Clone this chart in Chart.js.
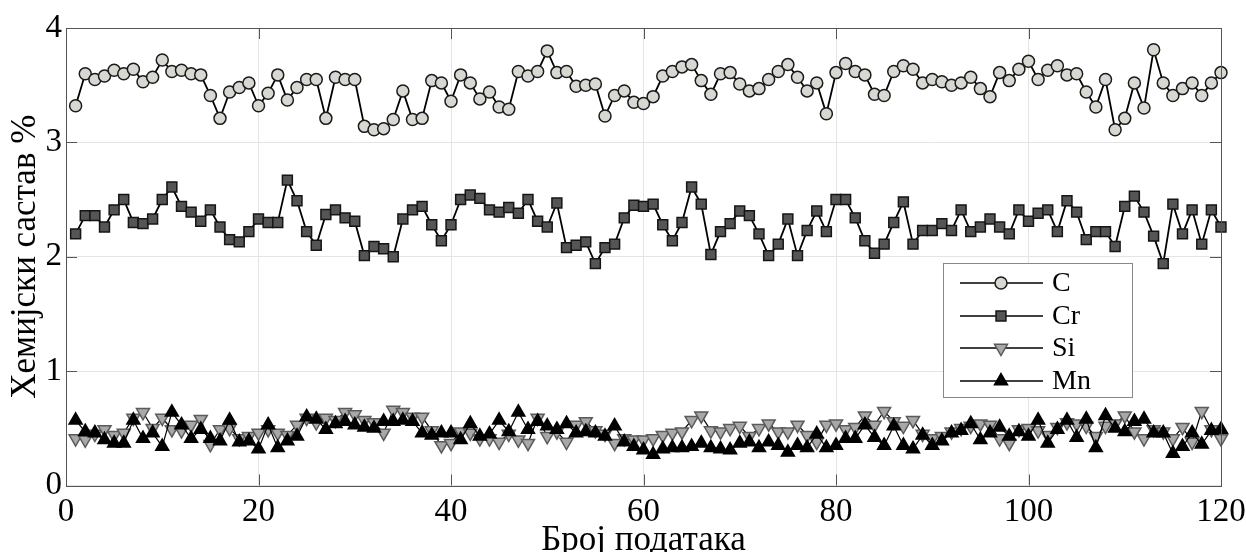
<!DOCTYPE html>
<html><head><meta charset="utf-8">
<script src="https://cdn.jsdelivr.net/npm/chart.js@4.4.1/dist/chart.umd.min.js"></script>
<style>html,body{margin:0;padding:0;background:#fff;}canvas{display:block}</style>
</head><body>
<canvas id="c" width="1246" height="552"></canvas>
<script>
// Sample numbers (x categories)
const sampleNo = Array.from({length:120}, (_, k) => k + 1);
const xTicks = [0, 20, 40, 60, 80, 100, 120];
const yTicks = [0, 1, 2, 3, 4];

const seriesC = [
3.32,3.60,3.55,3.58,3.63,3.60,3.64,3.53,3.57,3.72,
3.62,3.63,3.60,3.59,3.41,3.21,3.44,3.48,3.52,3.32,
3.43,3.59,3.37,3.48,3.55,3.55,3.21,3.57,3.55,3.55,
3.14,3.11,3.12,3.20,3.45,3.20,3.21,3.54,3.52,3.36,
3.59,3.52,3.38,3.44,3.31,3.29,3.62,3.58,3.62,3.80,
3.61,3.62,3.49,3.50,3.51,3.23,3.41,3.45,3.35,3.34,
3.40,3.58,3.62,3.66,3.68,3.54,3.42,3.60,3.61,3.51,
3.45,3.47,3.55,3.62,3.68,3.57,3.45,3.52,3.25,3.61,
3.69,3.62,3.59,3.42,3.41,3.62,3.67,3.64,3.52,3.55,
3.53,3.50,3.52,3.57,3.47,3.40,3.61,3.54,3.64,3.71,
3.55,3.63,3.67,3.59,3.60,3.44,3.31,3.55,3.11,3.21,
3.52,3.30,3.81,3.52,3.41,3.47,3.52,3.41,3.52,3.61];

const seriesCr = [
2.20,2.36,2.36,2.26,2.41,2.50,2.30,2.29,2.33,2.50,
2.61,2.44,2.39,2.31,2.41,2.26,2.15,2.13,2.22,2.33,
2.30,2.30,2.67,2.49,2.22,2.10,2.37,2.41,2.34,2.31,
2.01,2.09,2.07,2.00,2.33,2.41,2.44,2.28,2.14,2.28,
2.50,2.54,2.51,2.41,2.39,2.43,2.38,2.50,2.31,2.26,
2.47,2.08,2.10,2.13,1.94,2.08,2.11,2.34,2.45,2.44,
2.46,2.28,2.14,2.30,2.61,2.46,2.02,2.22,2.29,2.40,
2.36,2.20,2.01,2.11,2.33,2.01,2.23,2.40,2.22,2.50,
2.50,2.34,2.14,2.03,2.11,2.30,2.48,2.11,2.23,2.23,
2.29,2.23,2.41,2.22,2.26,2.33,2.26,2.20,2.41,2.31,
2.38,2.41,2.22,2.49,2.39,2.15,2.22,2.22,2.09,2.44,
2.53,2.39,2.18,1.94,2.46,2.20,2.41,2.11,2.41,2.26];

const seriesSi = [
0.41,0.40,0.45,0.49,0.44,0.46,0.59,0.64,0.50,0.59,
0.49,0.48,0.53,0.58,0.36,0.49,0.50,0.41,0.43,0.46,
0.49,0.46,0.44,0.53,0.59,0.55,0.59,0.57,0.64,0.62,
0.57,0.55,0.46,0.66,0.64,0.60,0.60,0.48,0.35,0.37,
0.47,0.46,0.41,0.41,0.38,0.45,0.40,0.37,0.59,0.43,
0.47,0.38,0.53,0.56,0.48,0.45,0.37,0.41,0.40,0.40,
0.41,0.44,0.46,0.47,0.57,0.61,0.48,0.47,0.50,0.52,
0.43,0.50,0.54,0.47,0.47,0.53,0.44,0.38,0.53,0.54,
0.49,0.51,0.61,0.53,0.65,0.56,0.52,0.57,0.45,0.41,
0.43,0.47,0.50,0.52,0.54,0.53,0.41,0.37,0.49,0.50,
0.48,0.44,0.51,0.55,0.54,0.52,0.43,0.52,0.54,0.61,
0.47,0.41,0.49,0.47,0.41,0.51,0.38,0.65,0.49,0.41];

const seriesMn = [
0.57,0.47,0.46,0.40,0.37,0.37,0.57,0.41,0.46,0.34,
0.64,0.53,0.41,0.49,0.41,0.39,0.57,0.38,0.39,0.32,
0.53,0.33,0.39,0.43,0.60,0.58,0.49,0.54,0.56,0.53,
0.51,0.50,0.56,0.56,0.57,0.56,0.46,0.44,0.46,0.46,
0.40,0.54,0.43,0.45,0.57,0.47,0.64,0.49,0.56,0.52,
0.49,0.54,0.46,0.47,0.46,0.43,0.52,0.38,0.34,0.31,
0.27,0.32,0.33,0.33,0.34,0.37,0.33,0.32,0.31,0.37,
0.38,0.33,0.38,0.35,0.29,0.35,0.33,0.45,0.33,0.35,
0.41,0.41,0.53,0.42,0.35,0.52,0.35,0.32,0.44,0.35,
0.39,0.46,0.48,0.54,0.40,0.46,0.51,0.43,0.47,0.43,
0.57,0.37,0.49,0.57,0.42,0.58,0.33,0.61,0.50,0.47,
0.56,0.58,0.46,0.46,0.28,0.34,0.46,0.36,0.48,0.49];

const seriesNames = ['C', 'Cr', 'Si', 'Mn'];
const xTitle = 'Број података';
const yTitle = 'Хемијски састав %';
const SERIF = '"Liberation Serif", "Times New Roman", serif';

const toPts = arr => arr.map((v, k) => ({x: sampleNo[k], y: v}));

const styles = [
  {pointStyle:'circle', radius:6, rotation:0, fill:'#d8d8d3', stroke:'#1a1a1a', lw:1.8},
  {pointStyle:'rect', radius:7, rotation:0, fill:'#555555', stroke:'#151515', lw:1.8},
  {pointStyle:'triangle', radius:7.5, rotation:180, fill:'#a8a8a8', stroke:'#5a5a5a', lw:1.2},
  {pointStyle:'triangle', radius:7.5, rotation:0, fill:'#000000', stroke:'#000000', lw:1.2}
];
const allSeries = [seriesC, seriesCr, seriesSi, seriesMn];

const datasets = allSeries.map((s, i) => ({
  label: seriesNames[i],
  data: toPts(s),
  borderColor: '#000',
  borderWidth: styles[i].lw,
  pointStyle: styles[i].pointStyle,
  pointRadius: styles[i].radius,
  pointRotation: styles[i].rotation,
  pointBackgroundColor: styles[i].fill,
  pointBorderColor: styles[i].stroke,
  pointBorderWidth: 1.5,
  tension: 0,
  clip: false,
  order: 3 - i
}));

function drawMarker(ctx, st, x, y) {
  ctx.save();
  ctx.fillStyle = st.fill; ctx.strokeStyle = st.stroke; ctx.lineWidth = 1.5;
  Chart.helpers.drawPoint(ctx, {pointStyle: st.pointStyle, radius: st.radius, rotation: st.rotation, borderWidth: 1.5}, x, y);
  ctx.restore();
}

const framePlugin = {
  id: 'frame',
  afterDraw(chart) {
    const {ctx, chartArea: a, scales} = chart;
    ctx.save();
    ctx.strokeStyle = '#555';
    ctx.lineWidth = 1;
    ctx.strokeRect(Math.round(a.left)+0.5, Math.round(a.top)+0.5, Math.round(a.right-a.left), Math.round(a.bottom-a.top));
    const tl = 11;
    ctx.beginPath();
    xTicks.forEach(v => {
      const px = Math.round(scales.x.getPixelForValue(v)) + 0.5;
      ctx.moveTo(px, a.bottom); ctx.lineTo(px, a.bottom - tl);
      ctx.moveTo(px, a.top); ctx.lineTo(px, a.top + tl);
    });
    yTicks.forEach(v => {
      const py = Math.round(scales.y.getPixelForValue(v)) + 0.5;
      ctx.moveTo(a.left, py); ctx.lineTo(a.left + tl, py);
      ctx.moveTo(a.right, py); ctx.lineTo(a.right - tl, py);
    });
    ctx.stroke();

    // legend
    const bx = 943.5, by = 263.5, bw = 189, bh = 134;
    ctx.fillStyle = '#fff';
    ctx.fillRect(bx, by, bw, bh);
    ctx.strokeStyle = '#888';
    ctx.strokeRect(bx, by, bw, bh);
    const rows = [283, 316, 348, 381];
    ctx.font = '28px ' + SERIF;
    ctx.textBaseline = 'middle';
    ctx.textAlign = 'left';
    rows.forEach((ry, i) => {
      ctx.strokeStyle = '#000';
      ctx.lineWidth = 1.6;
      ctx.beginPath(); ctx.moveTo(960, ry); ctx.lineTo(1043, ry); ctx.stroke();
      drawMarker(ctx, styles[i], 1001, ry);
      ctx.fillStyle = '#000';
      ctx.fillText(seriesNames[i], 1052, ry + 1);
    });
    ctx.restore();
  }
};

new Chart(document.getElementById('c'), {
  type: 'line',
  data: { datasets },
  options: {
    responsive: false,
    animation: false,
    layout: { padding: { top: 28, right: 25, left: 0, bottom: 0 } },
    plugins: { legend: { display: false }, tooltip: { enabled: false } },
    scales: {
      x: {
        type: 'linear', min: 0, max: 120,
        afterBuildTicks(s) { s.ticks = xTicks.map(v => ({value: v})); },
        ticks: { color: '#000', padding: 7, maxRotation: 0, font: { family: SERIF, size: 33 } },
        grid: { color: '#e4e4e4', drawTicks: false },
        border: { display: false },
        title: { display: true, text: xTitle, color: '#000', font: { family: SERIF, size: 35, lineHeight: 1 }, padding: { top: 0, bottom: -6 } },
        afterFit(s) { s.height = 66.5; s.paddingLeft = 0; s.paddingRight = 0; }
      },
      y: {
        min: 0, max: 4,
        afterBuildTicks(s) { s.ticks = yTicks.map(v => ({value: v})); },
        ticks: { color: '#000', padding: 4, font: { family: SERIF, size: 33 } },
        grid: { color: '#e4e4e4', drawTicks: false },
        border: { display: false },
        title: { display: true, text: yTitle, color: '#000', font: { family: SERIF, size: 35, lineHeight: 1 }, padding: { top: 8, bottom: 0 } },
        afterFit(s) { s.width = 66; s.paddingTop = 0; s.paddingBottom = 0; }
      }
    }
  },
  plugins: [framePlugin]
});
</script>
</body></html>
